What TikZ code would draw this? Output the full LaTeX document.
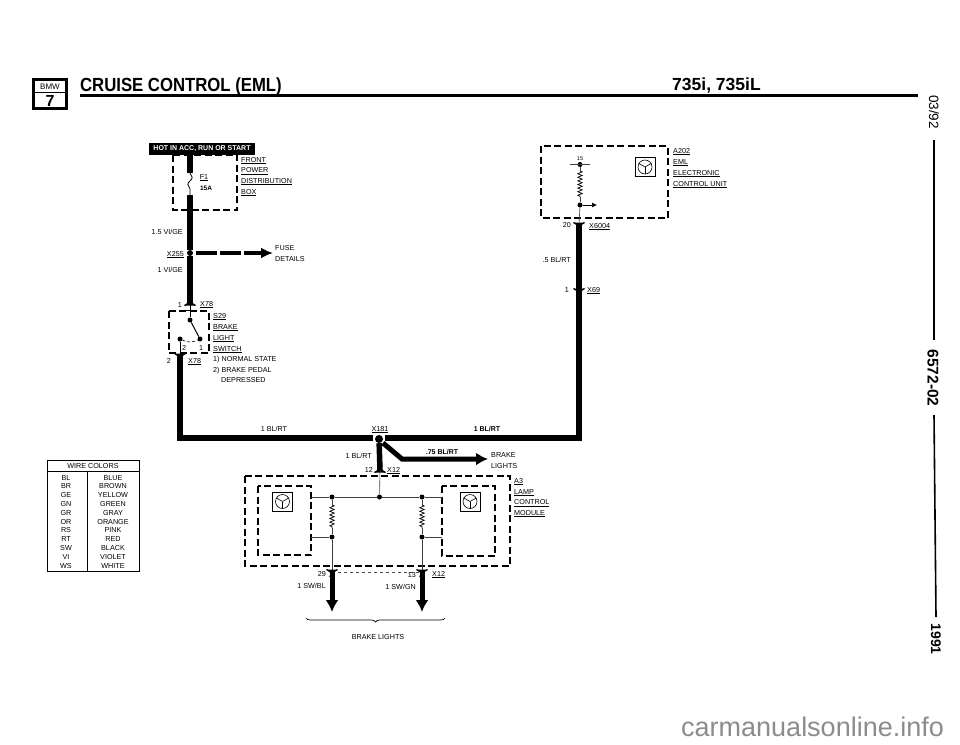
\documentclass[tikz,border=0pt]{standalone}
\usepackage{fontspec}
\setmainfont{Liberation Sans}
\usetikzlibrary{arrows.meta,decorations.pathmorphing,decorations.pathreplacing}
% connector cups, opening up or down
\newcommand{\cupdn}[1]{\draw[cupline] (#1)+(-5.5,-2.5) .. controls +(3,1) and +(4.5,3) .. +(0,3) .. controls +(-4.5,3) and +(-3,1) .. +(5.5,-2.5);}
\newcommand{\cupup}[1]{\draw[cupline] (#1)+(-5.5,2.5) .. controls +(3,-1) and +(4.5,-3) .. +(0,-3) .. controls +(-4.5,-3) and +(-3,-1) .. +(5.5,2.5);}
\newcommand{\icsym}[2]{
        \node[icbox] (#1) at (#2) {};
        \node[iccirc] (#1c) at (#2) {};
        \draw[icline] (#1c.center) -- (#1c.south);
        \draw[icline] (#1c.center) -- (#1c.150);
        \draw[icline] (#1c.center) -- (#1c.30);
}
\begin{document}
\begin{tikzpicture}[x=1pt,y=-1pt]
        \tikzset{wire/.style={line width=5.5pt,black}}
        \tikzset{wirearrow/.style={line width=5pt,-{Latex[length=12pt,width=13pt]}}}
        \tikzset{fine/.style={line width=0.6pt,black!75}}
        \tikzset{dashbox/.style={line width=1.3pt,dash pattern=on 7pt off 3.5pt}}
        \tikzset{cupline/.style={line width=1.2pt,fill=black}}
        \tikzset{dotn/.style={circle,fill=black,inner sep=0pt,minimum size=5pt}}
        \tikzset{resist/.style={line width=0.7pt,decorate,decoration={zigzag,segment length=3.6pt,amplitude=2.2pt}}}
        \tikzset{lbl/.style={font=\fontsize{7.2}{8}\selectfont,inner sep=0pt,anchor=base west}}
        \tikzset{lblr/.style={font=\fontsize{7.2}{8}\selectfont,inner sep=0pt,anchor=base east}}
        \tikzset{lblc/.style={font=\fontsize{7.2}{8}\selectfont,inner sep=0pt,anchor=base}}
        \tikzset{sidetxt/.style={inner sep=0pt,rotate=-90}}
        \tikzset{icbox/.style={draw,line width=0.9pt,minimum width=20pt,minimum height=19pt,inner sep=0pt}}
        \tikzset{iccirc/.style={draw,circle,line width=0.6pt,minimum size=14pt,inner sep=0pt}}
        \tikzset{icline/.style={line width=0.6pt}}
        \useasboundingbox[fill=white] (0,0) rectangle (960,744);
        % heading
        \node[draw,line width=2.6pt,minimum width=33pt,minimum height=29pt] (LOGO) at (50,94) {};
        \draw[line width=0.8pt] (LOGO.west |- 0,92.5) -- (LOGO.east |- 0,92.5);
        \node[inner sep=0pt,font=\fontsize{8}{8}\selectfont] (BMW) at (50,86.5) {BMW};
        \node[inner sep=0pt,font=\bfseries\fontsize{16}{16}\selectfont] (SEVEN) at (50,101) {7};
        \node[inner sep=0pt,anchor=base west,xscale=0.88,font=\bfseries\fontsize{19}{19}\selectfont] (TITLE) at (80,91) {CRUISE CONTROL (EML)};
        \node[inner sep=0pt,anchor=base west,font=\bfseries\fontsize{17.5}{18}\selectfont] (MODEL) at (672,90) {735i, 735iL};
        \coordinate (RL) at (80,95.5);
        \coordinate (RR) at (918,95.5);
        \draw[line width=2.2pt] (RL) -- (RR);
        % right margin
        \node[sidetxt,font=\fontsize{13.5}{14}\selectfont] (DATE) at (934,112) {03/92};
        \node[sidetxt,font=\bfseries\fontsize{15.5}{16}\selectfont] (GROUP) at (933,378) {6572-02};
        \node[sidetxt,font=\bfseries\fontsize{14}{14}\selectfont] (YEAR) at (936,639) {1991};
        \coordinate (M1) at (934,140);
        \coordinate (M2) at (934,340);
        \coordinate (M3) at (934,415);
        \coordinate (M4) at (936,617);
        \draw[line width=1.6pt] (M1) -- (M2);
        \draw[line width=1.6pt] (M3) -- (M4);
        % watermark
        \node[inner sep=0pt,anchor=base west,text=black!45,font=\fontsize{27}{27}\selectfont] (MARK) at (681,736) {carmanualsonline.info};
        % hot bar and front box
        \node[fill=black,text=white,inner sep=0pt,minimum width=106pt,minimum height=12pt,font=\bfseries\fontsize{7}{8}\selectfont] (HOT) at (202,149) {HOT IN ACC, RUN OR START};
        \draw[dashbox] (173,155) rectangle (237,210);
        \coordinate (F1a) at (190,173);
        \coordinate (F1b) at (190,195);
        \draw[wire] (190,155) -- (F1a);
        \draw[line width=0.8pt,decorate,decoration={snake,segment length=14pt,amplitude=2.2pt}] (F1a) -- (F1b);
        \node[dotn,minimum size=6pt] (X255) at (190,253) {};
        \draw[wire] (F1b) -- (X255);
        \node[lblc] (F1) at (204,179) {\underline{F1}};
        \node[lblc,font=\bfseries\fontsize{6.5}{8}\selectfont] (A15) at (206,190) {15A};
        \node[lbl] (FB1) at (241,162) {\underline{FRONT}};
        \node[lbl] (FB2) at (241,172.5) {\underline{POWER}};
        \node[lbl] (FB3) at (241,183) {\underline{DISTRIBUTION}};
        \node[lbl] (FB4) at (241,194) {\underline{BOX}};
        \node[lblr] (W1) at (183,234) {1.5 VI/GE};
        \node[lblr] (N255) at (184,256) {\underline{X255}};
        \coordinate (D1) at (196,253);
        \coordinate (D2) at (273,253);
        \draw[wire,line width=4.5pt,dash pattern=on 21pt off 3pt] (D1) -- (260,253);
        \draw[-{Latex[length=12pt,width=11pt]},line width=4.5pt] (250,253) -- (D2);
        \node[lbl] (FD1) at (275,250) {FUSE};
        \node[lbl] (FD2) at (275,261) {DETAILS};
        \node[lblr] (W2) at (183,272) {1 VI/GE};
        % brake switch
        \coordinate (C78a) at (190,303);
        \coordinate (C78b) at (180,356);
        \draw[wire] (X255) -- (C78a);
        \cupup{C78a}
        \draw[dashbox] (169,311) rectangle (209,353);
        \node[dotn] (SW1) at (190,320) {};
        \node[dotn] (SW2) at (200,339) {};
        \node[dotn] (SW3) at (180,339) {};
        \draw[line width=1pt] (C78a) -- (SW1);
        \draw[line width=1pt] (185,310) -- (195,310);
        \draw[line width=1pt] (SW1) -- (SW2);
        \draw[line width=0.6pt,densely dashed] (SW3) to[bend right=25] (SW2);
        \draw[line width=0.7pt] (SW3) -- (C78b);
        \cupdn{C78b}
        \node[lblc] (P2i) at (184,350) {2};
        \node[lblc] (P1i) at (201,350) {1};
        \node[lblr] (P1) at (182,307) {1};
        \node[lbl] (N78a) at (200,306) {\underline{X78}};
        \node[lblr] (P2) at (171,363) {2};
        \node[lbl] (N78b) at (188,363) {\underline{X78}};
        \node[lbl] (SL1) at (213,318) {\underline{S29}};
        \node[lbl] (SL2) at (213,329) {\underline{BRAKE}};
        \node[lbl] (SL3) at (213,340) {\underline{LIGHT}};
        \node[lbl] (SL4) at (213,351) {\underline{SWITCH}};
        \node[lbl] (SL5) at (213,361) {1) NORMAL STATE};
        \node[lbl] (SL6) at (213,372) {2) BRAKE PEDAL};
        \node[lbl] (SL7) at (221,382) {DEPRESSED};
        % main bus
        \node[dotn,minimum size=8pt] (X181) at (379,439) {};
        \coordinate (BL) at (180,438);
        \coordinate (BLe) at (373,438);
        \coordinate (BR) at (579,438);
        \coordinate (BRe) at (385,438);
        \draw[wire,line join=miter] (C78b) -- (BL) -- (BLe);
        \draw[wire] (BRe) -- (BR);
        \node[lblc] (W3) at (274,431) {1 BL/RT};
        \node[lblc] (N181) at (380,431) {\underline{X181}};
        \node[lblc,font=\bfseries\fontsize{7}{8}\selectfont] (W4) at (487,431) {1 BL/RT};
        % EML unit
        \draw[dashbox] (541,146) rectangle (668,218);
        \node[dotn] (E15) at (580,164.5) {};
        \node[dotn] (E0) at (580,205) {};
        \coordinate (ER1) at (580,171);
        \coordinate (ER2) at (580,197);
        \coordinate (EA) at (597,205);
        \coordinate (EL) at (570,164.5);
        \coordinate (ER) at (590,164.5);
        \coordinate (C6004) at (579,225);
        \coordinate (C69) at (579,291);
        \coordinate (BRc) at (579,440.75);
        \draw[fine] (EL) -- (ER);
        \draw[fine] (E15) -- (ER1);
        \draw[resist] (ER1) -- (ER2);
        \draw[fine] (ER2) -- (E0);
        \draw[fine] (E0) -- (C6004);
        \draw[line width=0.7pt,-{Latex[length=5pt,width=5pt]}] (E0) -- (EA);
        \draw[wire] (C6004) -- (C69);
        \draw[wire] (C69) -- (BRc);
        \cupdn{C6004}
        \cupdn{C69}
        \icsym{ICE}{645,167}
        \node[lblc,font=\fontsize{5.5}{6}\selectfont] (P15) at (580,160) {15};
        \node[lbl] (AL1) at (673,153) {\underline{A202}};
        \node[lbl] (AL2) at (673,164) {\underline{EML}};
        \node[lbl] (AL3) at (673,175) {\underline{ELECTRONIC}};
        \node[lbl] (AL4) at (673,186) {\underline{CONTROL UNIT}};
        \node[lblr] (P20) at (571,227) {20};
        \node[lbl] (N6004) at (589,228) {\underline{X6004}};
        \node[lblr] (W5) at (571,262) {.5 BL/RT};
        \node[lblr] (P1b) at (569,292) {1};
        \node[lbl] (N69) at (587,292) {\underline{X69}};
        % stub and brake lights branch
        \coordinate (C12) at (380,470);
        \coordinate (B1) at (383,443);
        \coordinate (B2) at (402,459);
        \coordinate (B3) at (488,459);
        \draw[wire] (X181) -- (C12);
        \draw[wirearrow] (B1) -- (B2) -- (B3);
        \cupup{C12}
        \node[lblr] (W6) at (372,458) {1 BL/RT};
        \node[lblc,font=\bfseries\fontsize{7}{8}\selectfont] (W7) at (442,454) {.75 BL/RT};
        \node[lbl] (BL1) at (491,457) {BRAKE};
        \node[lbl] (BL2) at (491,468) {LIGHTS};
        \node[lblr] (P12) at (373,472) {12};
        \node[lbl] (N12a) at (387,472) {\underline{X12}};
        % lamp control module
        \draw[dashbox] (245,476) rectangle (510,566);
        \draw[dashbox] (258,486) rectangle (311,555);
        \draw[dashbox] (442,486) rectangle (495,556);
        \icsym{ICL}{282.5,501.5}
        \icsym{ICR}{470,501.5}
        \node[dotn] (J1) at (332,497) {};
        \node[dotn] (J2) at (379.5,497) {};
        \node[dotn] (J3) at (422,497) {};
        \node[dotn] (J4) at (332,537) {};
        \node[dotn] (J5) at (422,537) {};
        \coordinate (L1) at (311,497);
        \coordinate (L2) at (442,497);
        \coordinate (L3) at (311,537);
        \coordinate (L4) at (442,537);
        \coordinate (R1a) at (332,505);
        \coordinate (R1b) at (332,528);
        \coordinate (R2a) at (422,505);
        \coordinate (R2b) at (422,528);
        \coordinate (C29) at (332,572);
        \coordinate (C13) at (422,572);
        \coordinate (A29) at (332,612);
        \coordinate (A13) at (422,612);
        \draw[fine] (C12) -- (J2);
        \draw[fine] (L1) -- (J1) -- (J2) -- (J3) -- (L2);
        \draw[fine] (J1) -- (R1a);
        \draw[resist] (R1a) -- (R1b);
        \draw[fine] (R1b) -- (J4);
        \draw[fine] (J3) -- (R2a);
        \draw[resist] (R2a) -- (R2b);
        \draw[fine] (R2b) -- (J5);
        \draw[fine] (L3) -- (J4);
        \draw[fine] (L4) -- (J5);
        \draw[fine] (J4) -- (C29);
        \draw[fine] (J5) -- (C13);
        \draw[line width=0.6pt,dashed,black!70] (C29) -- (C13);
        \cupdn{C29}
        \cupdn{C13}
        \draw[wirearrow] (C29) -- (A29);
        \draw[wirearrow] (C13) -- (A13);
        \node[lbl] (ML1) at (514,483) {\underline{A3}};
        \node[lbl] (ML2) at (514,494) {\underline{LAMP}};
        \node[lbl] (ML3) at (514,504.5) {\underline{CONTROL}};
        \node[lbl] (ML4) at (514,515) {\underline{MODULE}};
        \node[lblr] (P29) at (326,576) {29};
        \node[lblr] (P13) at (416,577) {13};
        \node[lbl] (N12b) at (432,576) {\underline{X12}};
        \node[lblr] (W8) at (326,588) {1 SW/BL};
        \node[lblr] (W9) at (416,589) {1 SW/GN};
        \coordinate (BRa) at (306,618);
        \coordinate (BRb) at (445,618);
        \draw[line width=0.7pt,decorate,decoration={brace,mirror,amplitude=4pt}] (BRa) -- (BRb);
        \node[lblc] (BL3) at (378,639) {BRAKE LIGHTS};
        % wire colours
        \draw[line width=0.8pt] (47,460) rectangle (139,571);
        \draw[line width=0.8pt] (47,471) -- (139,471);
        \draw[line width=0.8pt] (87,471) -- (87,571);
        \node[lblc] (WC) at (93,468) {WIRE COLORS};
        \node[lblc] (C1) at (66,480) {BL};
        \node[lblc] (D01) at (113,480) {BLUE};
        \node[lblc] (C2) at (66,488.8) {BR};
        \node[lblc] (D02) at (113,488.8) {BROWN};
        \node[lblc] (C3) at (66,497.6) {GE};
        \node[lblc] (D03) at (113,497.6) {YELLOW};
        \node[lblc] (C4) at (66,506.4) {GN};
        \node[lblc] (D04) at (113,506.4) {GREEN};
        \node[lblc] (C5) at (66,515.2) {GR};
        \node[lblc] (D05) at (113,515.2) {GRAY};
        \node[lblc] (C6) at (66,524) {OR};
        \node[lblc] (D06) at (113,524) {ORANGE};
        \node[lblc] (C7) at (66,532.8) {RS};
        \node[lblc] (D07) at (113,532.8) {PINK};
        \node[lblc] (C8) at (66,541.6) {RT};
        \node[lblc] (D08) at (113,541.6) {RED};
        \node[lblc] (C9) at (66,550.4) {SW};
        \node[lblc] (D09) at (113,550.4) {BLACK};
        \node[lblc] (C10) at (66,559.2) {VI};
        \node[lblc] (D10) at (113,559.2) {VIOLET};
        \node[lblc] (C11) at (66,568) {WS};
        \node[lblc] (D11) at (113,568) {WHITE};
\end{tikzpicture}
\end{document}
